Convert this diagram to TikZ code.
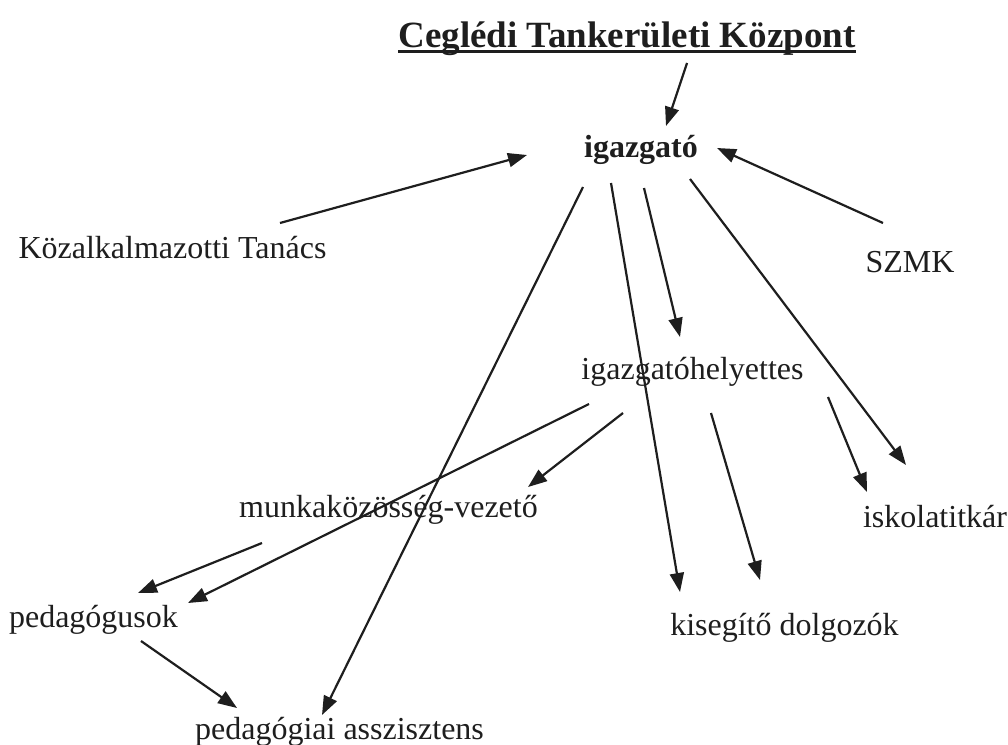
\documentclass[tikz,border=0pt]{standalone}
\usepackage{fontspec}
\setmainfont{Liberation Serif}
\usetikzlibrary{arrows.meta}
\definecolor{ink}{RGB}{30,30,30}
\begin{document}
\begin{tikzpicture}[x=1pt,y=-1pt,
  lbl/.style={inner sep=0pt,anchor=base,text=ink,font=\fontsize{32}{38}\selectfont},
  ttl/.style={inner sep=0pt,anchor=base,text=ink,font=\fontsize{37}{44}\selectfont\bfseries},
  arr/.style={draw=ink,line width=2.2pt,-{Triangle[length=19pt,width=14pt]}}]
\useasboundingbox[fill=white] (0,0) rectangle (1008,744);
% texts
\node[ttl] (title) at (627,47) {Ceglédi Tankerületi Központ};
\draw[ink,line width=3pt] ([yshift=-4.5pt]title.base west) -- ([yshift=-4.5pt]title.base east);
\node[lbl,font=\fontsize{32}{38}\selectfont\bfseries] (ig) at (641,157) {igazgató};
\node[lbl] (kt) at (172.5,258) {Közalkalmazotti Tanács};
\node[lbl] (szmk) at (910,272) {SZMK};
\node[lbl] (ih) at (692.5,379) {igazgatóhelyettes};
\node[lbl] (mk) at (388.5,517) {munkaközösség-vezető};
\node[lbl] (it) at (935,527) {iskolatitkár};
\node[lbl] (ped) at (93.5,627) {pedagógusok};
\node[lbl] (kd) at (784.5,635) {kisegítő dolgozók};
\node[lbl] (pa) at (339.5,739) {pedagógiai asszisztens};
% arrow end points
\coordinate (a1s) at (687,63);  \coordinate (a1e) at (666,126);
\coordinate (a2s) at (280,223); \coordinate (a2e) at (527,155);
\coordinate (a3s) at (883,223); \coordinate (a3e) at (717,148);
\coordinate (a4s) at (583,187); \coordinate (a4e) at (322,715);
\coordinate (a5s) at (611,183); \coordinate (a5e) at (680,592);
\coordinate (a6s) at (644,188); \coordinate (a6e) at (680,337);
\coordinate (a7s) at (690,179); \coordinate (a7e) at (906,465);
\coordinate (a8s) at (589,404); \coordinate (a8e) at (188,603);
\coordinate (a9s) at (623,413); \coordinate (a9e) at (528,487);
\coordinate (a10s) at (711,413); \coordinate (a10e) at (760,580);
\coordinate (a11s) at (828,397); \coordinate (a11e) at (867,492);
\coordinate (a12s) at (262,543); \coordinate (a12e) at (138,593);
\coordinate (a13s) at (141,641); \coordinate (a13e) at (237,708);
% connectors
\draw[arr] (a1s) -- (a1e);
\draw[arr] (a2s) -- (a2e);
\draw[arr] (a3s) -- (a3e);
\draw[arr] (a4s) -- (a4e);
\draw[arr] (a5s) -- (a5e);
\draw[arr] (a6s) -- (a6e);
\draw[arr] (a7s) -- (a7e);
\draw[arr] (a8s) -- (a8e);
\draw[arr] (a9s) -- (a9e);
\draw[arr] (a10s) -- (a10e);
\draw[arr] (a11s) -- (a11e);
\draw[arr] (a12s) -- (a12e);
\draw[arr] (a13s) -- (a13e);
\end{tikzpicture}
\end{document}
